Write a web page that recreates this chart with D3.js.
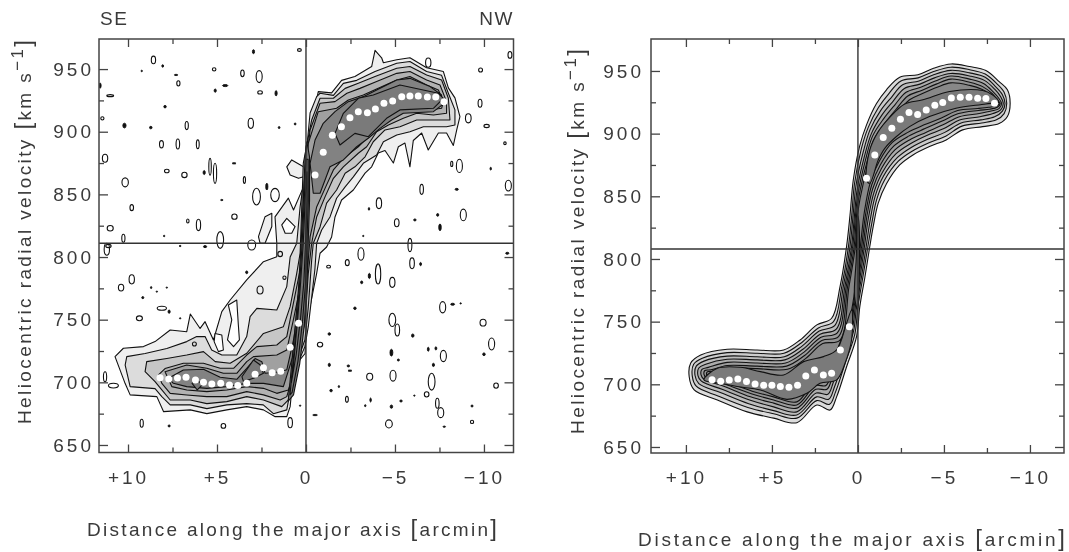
<!DOCTYPE html>
<html lang="en">
<head>
<meta charset="UTF-8">
<title>Position-velocity diagrams along the major axis</title>
<script src="https://d3js.org/d3.v7.min.js"></script>
<style>
    html, body { margin: 0; padding: 0; background: #fff; }
    svg { display: block; filter: blur(0.35px); }
    text { font-family: "Liberation Sans", Arial, sans-serif; fill: #3a3a3a; }
    .tick-label { font-size: 19px; letter-spacing: 3px; }
    .axis-title { font-size: 19px; }
    .contour { stroke: #111; stroke-width: 1.1; stroke-linejoin: round; }
    .speck { fill: none; stroke: #111; stroke-width: 1.1; }
    .speck-solid { fill: #111; stroke: #111; stroke-width: 0.9; }
    .cross { stroke: #333; stroke-width: 1.4; }
    .frame { fill: none; stroke: #444; stroke-width: 1.5; }
    .ticks line { stroke: #444; stroke-width: 1.3; }
    .ticks path { display: none; }
</style>
</head>
<body>
<div id="chart"></div>
<script>
const majorOffsets = [10, 5, 0, -5, -10];
const minorOffsets = [7.5, 2.5, -2.5, -7.5];
const majorVelocities = [650, 700, 750, 800, 850, 900, 950];
const minorVelocities = [675, 725, 775, 825, 875, 925];
const xTitle = "Distance along the major axis ";
const yTitle = "Heliocentric radial velocity ";
const sideLabels = ["SE", "NW"];
const systemicLeft = 811;
const systemicRight = 808;
const levelGreys = ["#efefef", "#dcdcdc", "#c6c6c6", "#b2b2b2", "#a0a0a0", "#828282", "#7a7a7a"];
const rightGreys = ["#dcdcdc", "#cccccc", "#bcbcbc", "#acacac", "#9c9c9c", "#929292", "#888888", "#7a7a7a"];

// white dots: [offset arcmin, velocity km/s]
const leftRotation = [[-.51,865.5],[-.97,883.6],[-1.48,897.1],[-1.99,904],[-2.47,911.2],[-2.94,916],[-3.45,915.2],[-3.9,918.2],[-4.38,922.7],[-4.87,924.5],[-5.38,928],[-5.84,928.5],[-6.31,928.5],[-6.82,927.7],[-7.29,927.7],[-7.75,924],
    [.42,747.1],[.89,728],[1.42,708.8],[1.9,707.7],[2.39,711.7],[2.86,706.4],[3.33,699.2],[3.83,697.4],[4.3,697.9],[4.79,699.2],[5.29,698.7],[5.76,700],[6.21,701.9],[6.74,704],[7.22,703.5],[7.71,702.7],[8.2,703.7]];
const rightRotation = [[-.5,864.4],[-.98,883],[-1.47,896.9],[-1.97,904.3],[-2.47,911.5],[-2.97,916.8],[-3.47,915.2],[-3.97,918.9],[-4.47,922.7],[-4.93,924.8],[-5.43,928.5],[-5.95,929],[-6.46,929],[-6.96,928.3],[-7.44,928],[-7.94,924.3],
    [.5,746],[1.02,727.4],[1.53,708.8],[2.01,707.5],[2.53,711.5],[3.03,706.7],[3.51,699.2],[4.01,697.6],[4.51,698.2],[5,699.2],[5.48,699.2],[5.98,700.3],[6.48,702.2],[6.98,704.3],[7.48,703.5],[7.98,702.4],[8.48,703.7]];

// left panel contours, observed data
const leftLevel1 = [[10.73,720.5],[10.26,727.2],[9.13,728.5],[8.48,732.5],[7.63,741.8],[6.7,740.4],[6.5,754.5],[5.95,743],[5.67,748.4],[5.2,733.8],[4.73,756.4],[4.26,765.7],[3.33,781.7],[2.39,796.3],[1.64,800.3],[1.64,811],[1.74,832],[.99,847],[.7,837.6],[.14,856],[.05,875],[0,888],[-.23,899],[-.41,912],[-.69,932],[-1.44,931],[-2,941],[-2.75,944],[-3.69,952],[-3.88,965],[-4.25,959],[-4.35,955],[-5.1,957.5],[-5.84,959],[-6.78,951],[-7.72,948],[-8,935],[-8.37,927],[-8.65,912],[-8.47,901.4],[-8.28,889],[-7.9,899],[-7.44,899],[-6.87,885.4],[-6.5,899],[-6.03,893],[-5.84,872],[-5.56,891],[-5.19,888],[-4.91,875],[-4.44,885],[-4.06,883],[-3.69,872],[-3.32,867],[-2.66,853.5],[-2,845.5],[-1.63,832],[-1.44,816],[-1.16,808],[-.79,803],[-.6,787],[-.22,760],[0,739],[.05,723],[.52,715],[.8,694],[.89,680.6],[1.08,672.6],[1.73,672.6],[2.39,678],[3.33,680.6],[4.45,678],[5.57,675],[6.5,678],[8,676.6],[8.38,688.6],[9.88,690],[10.16,699]];
const leftLobeA = [[1.08,872],[.8,877.5],[.14,872],[.14,864],[.42,862.8],[.89,865.5]];
const leftLobeB = [[2.67,816.3],[2.3,832.2],[1.92,834.9],[1.92,824.3],[2.3,811],[2.58,811]];
const leftHoles = [
    [[5.11,739],[4.73,737.8],[4.64,725.8],[4.92,724.5],[5.16,732.5]],
    [[4.36,761.7],[3.89,765.7],[3.8,745.8],[3.74,733.8],[4.07,728.5],[4.41,733.8],[4.17,749.8]],
    [[1.36,825.6],[1.08,830.9],[.61,824.3],[.8,819],[1.17,819]]
];
const leftLevel2 = [[10.16,713.8],[10.07,720.5],[9.04,723],[7.82,727],[6.7,732.5],[6.14,736.5],[5.67,736.5],[5.3,725.8],[4.73,721.8],[3.89,721.8],[3.33,736.5],[3.14,752.4],[2.76,759],[1.64,757.7],[1.08,776.4],[.89,800],[.52,811],[.33,840],[.14,859],[-.23,915],[-.6,928],[-.79,930.7],[-1.54,929],[-2.1,938.6],[-2.85,941],[-3.88,948],[-5.1,954.6],[-5.84,956],[-6.78,948],[-7.62,945],[-8,930.7],[-8.37,917.4],[-8.37,905.4],[-7.9,904],[-7.34,904],[-6.6,904],[-5.84,900],[-5.1,897.4],[-4.35,892],[-3.97,881.4],[-3.22,874.8],[-2.66,864],[-2.2,856],[-1.72,846.9],[-1.35,832],[-.88,821.6],[-.6,811],[-.5,790],[-.13,744.4],[.06,728.5],[.7,707],[1.08,678],[1.83,675],[2.4,682],[3.33,683],[4.45,682],[5.57,679],[6.5,682],[7.63,682],[8.1,688.6],[8.48,695],[9.88,696.6]];
const leftLevel3 = [[9.04,708.5],[8.95,716.5],[7.82,719],[6.7,721.8],[5.76,724.5],[5.1,716.5],[4.26,715.2],[3.33,723.2],[2.39,739],[1.27,744.4],[.89,760.4],[.52,787],[.33,803],[.15,875],[-.32,909.4],[-.79,926.7],[-1.54,926.7],[-2.2,934.6],[-2.94,938.6],[-3.88,944],[-5.1,950.6],[-5.84,952],[-6.78,945.3],[-7.62,941.3],[-8,926.7],[-8.09,909.4],[-7.34,909.4],[-6.22,909.4],[-5.28,904],[-4.44,901.4],[-3.78,892],[-3.32,880],[-2.75,872],[-2.2,866.8],[-1.72,853.5],[-1.16,843],[-.79,824],[-.41,811],[-.32,797.6],[-.13,760],[.06,733.8],[.61,712.5],[.99,686],[1.36,680.6],[2.39,685.9],[3.33,688.6],[4.45,684.6],[5.57,683],[6.5,685.9],[7.63,685.9],[8.1,693.9],[8.48,700.5]];
const leftLevel4 = [[8.29,705.9],[7.92,711],[6.89,715.2],[5.76,715.2],[4.82,711.2],[4.07,711.2],[3.33,721.8],[2.76,728.5],[1.64,729.8],[1.08,736.5],[.71,763],[.33,789.7],[.1,860],[-.23,901.4],[-.79,922.7],[-1.63,924],[-2.3,930.7],[-3.03,934.6],[-3.97,940],[-5.1,946.6],[-5.84,948],[-6.78,941.3],[-7.53,937.3],[-7.9,924],[-7.9,914.7],[-7.16,913.4],[-6.22,914.7],[-5.47,910.7],[-4.63,905.4],[-3.97,900],[-3.41,888],[-2.94,882.8],[-2.1,872],[-1.54,862.8],[-1.07,848],[-.6,832],[-.32,811],[-.13,787],[.06,747],[.52,723],[.8,702],[1.08,688.6],[1.45,685.9],[2.39,690],[3.33,692.6],[4.45,688.6],[5.57,688.6],[6.7,689.9],[7.63,691.2],[8.1,699.2]];
const leftLevel5 = [[7.92,708.5],[6.7,713.8],[5.57,711.2],[4.64,707.2],[3.89,707.2],[3.33,716.5],[2.95,720.5],[1.64,721.8],[1.08,725.8],[.71,749.8],[.24,781.7],[.05,850],[-.13,890.8],[-.69,916],[-1.72,918.7],[-2.38,925.3],[-3.22,929.3],[-4.06,934.6],[-5.1,941.3],[-5.84,944],[-6.78,937.3],[-7.44,933.3],[-7.72,924],[-7.62,918.7],[-6.97,917.4],[-6.03,918.7],[-5.28,914.7],[-4.63,910.7],[-4.06,904],[-3.5,896],[-2.94,888],[-2.1,878.8],[-1.54,869.5],[-1.07,854.8],[-.6,840],[-.23,816],[.15,747],[.42,733.8],[.7,707],[.99,693.9],[1.64,691.2],[2.39,695.2],[3.33,696.6],[4.45,693.9],[5.57,692.6],[6.7,693.9],[7.54,696.6]];
const leftLevel6 = [
    [[7.73,703.2],[6.89,709.9],[5.76,710.4],[4.82,704],[3.89,702.4],[3.33,711.2],[2.86,719],[2.48,716.5],[2.3,707.2],[1.45,708.5],[1.08,710],[.7,733.8],[.42,760.4],[.2,800],[.5,760],[.75,720],[1.27,696.6],[2.39,699.2],[3.33,699.2],[4.45,696.6],[5.57,695.2],[6.7,696.6],[7.45,699.2]],
    [[-.41,850.9],[-.79,850.9],[-1.35,872],[-2.1,877.5],[-2.85,888],[-3.5,894.8],[-4.16,902.7],[-4.81,909.4],[-5.47,914.7],[-7.16,916],[-7.62,921],[-7.62,929.3],[-6.97,936],[-5.84,942.6],[-5.1,941.3],[-3.97,933.3],[-3.22,928],[-2.38,924],[-1.63,916],[-.97,906.7],[-.51,893.4],[-.23,874.8]]
];
const leftLevel7 = [
    [[-1.63,898.7],[-1.91,889.4],[-2.75,898.7],[-3.5,896],[-4.53,910.7],[-5.28,917.4],[-7.16,918.7],[-7.72,926.7],[-7.44,930.7],[-5.28,937.3],[-3.78,929.3],[-2.94,926.7],[-2.1,914.7]],
    [[6.4,699.2],[6.11,701.9],[5.83,697.9],[6.11,693.9]],
    [[3.6,704.5],[2.95,717.8],[2.58,714],[2.39,707.2],[2.95,703.2],[3.51,700.6]]
];
const leftCore = [
    [[1,685],[.8,715],[.6,745],[.42,775],[.28,810],[.15,845],[.05,880],[-.05,892],[-.2,880],[-.2,845],[-.12,810],[-.05,775],[.1,745],[.35,715],[.7,690]],
    [[.9,690],[.72,717],[.52,748],[.36,778],[.22,810],[.1,845],[0,878],[-.12,878],[-.13,845],[-.05,810],[.03,778],[.2,748],[.45,717],[.78,692]],
    [[.82,700],[.65,722],[.46,752],[.3,780],[.15,812],[.05,845],[-.05,868],[-.06,845],[.02,812],[.12,780],[.3,752],[.55,722]]
];
// small noise contours: [offset, velocity, half width arcmin, half height km/s]
const leftLoops = [[8.57,957.3,.12,3],[5.16,949.8,.1,1.3],[3.57,946.6,.1,2.7],[2.63,944,.17,4.8],[7.17,938.6,.09,2.1],[2.58,931.4,.13,1.3],[11,928.8,.19,.8],[11.44,910.7,.09,1.3],[6.7,904.9,.09,3.2],[3.1,906.7,.15,4],[8.12,890,.11,2.9],[7.2,890.2,.1,4],[6.08,890,.08,3.5],[11.29,878.8,.15,3.2],[7.82,868.7,.13,1.4],[6.83,865.5,.15,2.1],[5.39,872,.07,6.7],[5.11,866.8,.09,8],[3.46,861.5,.06,2.7],[10.16,859.6,.18,3.6],[9.79,839.4,.1,2.4],[4.02,832.2,.15,2.1],[11,823,.17,2.2],[6.64,828.8,.07,1.6],[6.04,825.6,.12,4.5],[10.26,815,.09,3.2],[11.1,808.8,.15,1.3],[4.82,813.6,.19,6.7],[3.05,809.6,.22,4],[2.78,848.2,.22,6.7],[1.74,849.5,.24,5.3],[.37,965.2,.11,1.1],
    [-6.87,955.1,.15,3.7],[-9.81,949.3,.11,1.6],[-11.46,961.3,.11,2.7],[-9.78,922.7,.11,3.2],[-9.12,910.7,.16,3.6],[-10.15,904.6,.15,1.3],[-11.18,890.8,.07,1.1],[-8.62,872.7,.17,5.3],[-8.19,874.3,.06,2.1],[-11.37,857,.17,4.3],[-6.5,854,.1,4],[-4.1,842.9,.15,4.3],[-8.84,833.6,.17,4.6],[-5.1,827.4,.13,3.2],[-5.84,809.6,.11,5.3],
    [-3.09,802.4,.17,5],[-2.32,795.5,.11,2.4],[-1.27,792.3,.11,1.1],[-5.96,795,.13,4.3],[-4.05,786.5,.15,8],[-4.85,779.8,.15,4],[-7.68,759.9,.17,4.5],[-4.85,749.8,.19,5.3],[-5.13,741.8,.13,4.8],[-9.95,747.6,.17,2.7],[-10.43,730.6,.17,4.8],[-.79,730.1,.15,1.9],[-7.72,721,.17,4.5],[-3.58,704.5,.17,2.8],[-4.89,705.3,.17,4.3],[-7.06,700.5,.19,6.7],[-6.78,690.4,.13,2.1],[-10.68,697.4,.13,2.1],[-2.3,686.4,.08,2.4],[-7.38,683.3,.1,4],[-7.57,675.8,.17,4],[-9.33,668.4,.09,1.3],[-4.66,666.8,.19,3.2],
    [11.19,806.2,.15,4.8],[9.79,782.2,.15,3.7],[10.39,775.6,.15,2.7],[9.36,751.1,.17,1.9],[8.1,759.1,.26,1.6],[6.27,730.6,.11,1.6],[11.29,704.5,.09,4],[10.82,697.4,.28,1.9],[9.23,667.3,.09,3.2],[4.64,665.2,.13,1.9],[.89,667.8,.13,4],[1.45,802.4,.13,2.1],[2.58,773.7,.17,3.2],[1.21,783.5,.09,1.3]];
const leftDots = [[9.23,948.5,.04,.6],[8.05,952.5,.05,1],[7.3,945.3,.1,.5],[4.54,936.8,.15,.8],[5.1,932.8,.06,1.3],[1.68,930.7,.06,2.1],[11.57,936.8,.06,2.1],[7.92,920,.07,1],[10.2,904.9,.09,1.9],[8.72,903.3,.07,1],[1.51,903.3,.05,.8],[.61,906.2,.05,.8],[5.72,867.4,.06,1.6],[4.04,874.8,.11,.5],[2.2,856.2,.06,2.7],[4.73,845.5,.07,.5],[7.97,816.8,.04,.6],[7.07,808.8,.05,.5],[5.67,808.3,.09,.8],[2.95,963.9,.06,1.6],
    [-10.38,870.5,.04,1.1],[-8.47,854,.09,.8],[-3.54,838.4,.04,1.1],[-6.12,829.6,.07,.8],[-7.4,833.6,.06,1.1],[-7.53,823.7,.07,2.7],[-3.22,816.8,.04,.5],
    [-6.44,794.4,.05,1.3],[-11.31,803,.09,.8],[-3.56,784.9,.06,2.1],[-3.13,779.8,.06,1.1],[-2.75,759.1,.07,1],[-8.24,762.3,.11,.8],[-8.69,763,.04,.5],[-6,737.3,.07,1.3],[-10,722.4,.07,1.1],[-1.31,738.6,.07,1],[-6.87,726.4,.05,1.6],[-7.3,727.1,.05,1.3],[-4.8,723.7,.08,2.7],[-5.19,717.8,.06,.8],[-1.31,713.9,.06,1.3],[-2.38,713.1,.07,.8],[-2.47,709.3,.11,.5],[-7.16,713.9,.06,1.3],[-1.41,693.4,.07,1],[-1.85,696.6,.04,.8],[-3.63,685.9,.04,1.6],[-3.33,681.4,.04,.8],[-4.8,680.6,.07,1.3],[-5.34,685.1,.07,.8],[-6.09,689.4,.04,.5],[-9.33,681.1,.06,.8],[-7.77,664.6,.07,.5],[-.51,673.9,.13,.5],
    [9.17,767.6,.06,.8],[8.7,775.6,.04,.8],[8.38,772.4,.04,.5],[7.82,775.6,.04,.5],[7.69,756.4,.06,1.3],[7.07,751.1,.04,.5],[7.69,665.2,.06,.8],[.33,681.4,.04,.5],[3.33,787.8,.06,1.1]];

// right panel contours, model
const rightLevel1 = [[.27,863],[-.1,890],[-.5,907],[-1.08,924],[-1.66,935],[-2.43,945],[-3.49,947],[-4.36,952],[-5.42,955.6],[-6.48,953.5],[-7.44,950.3],[-8.21,941.5],[-8.69,935],[-8.85,924],[-8.69,913.6],[-8.21,908],[-7.25,905.6],[-6.09,903],[-5.13,895],[-4.16,889.7],[-3.2,883],[-2.43,875],[-1.66,860],[-1.18,844.5],[-.89,826],[-.69,810],[-.4,785],[-.11,762],[.08,738],[.66,714],[1.24,690],[1.62,679.5],[2.39,683.5],[3.55,669.4],[4.9,673],[6.44,678],[8.17,687.5],[9.52,695.5],[9.81,706],[9.72,717],[9.14,723.4],[7.6,728],[5.86,727.4],[4.32,727.4],[3.36,735.4],[2.39,747.4],[1.53,752.7],[1.04,778],[.66,810],[.46,835]];
const rightLevel2 = [[.2,860],[-.2,888],[-.6,905],[-1.2,921],[-1.8,932],[-2.5,942],[-3.5,944.5],[-4.4,949.5],[-5.4,953],[-6.5,951],[-7.4,947.5],[-8.1,939.5],[-8.5,933],[-8.65,924],[-8.5,916],[-8.05,911],[-7.2,908.5],[-6.05,906],[-5.1,898],[-4.1,892.5],[-3.15,886],[-2.35,878],[-1.55,863],[-1.08,847],[-.8,828],[-.58,810],[-.28,785],[0,762],[.18,740],[.74,717],[1.3,694],[1.65,684],[2.39,687],[3.55,673],[4.9,676.5],[6.4,681.5],[8.1,690.5],[9.4,698.5],[9.63,706.5],[9.55,716],[9.05,720.8],[7.6,725.3],[5.86,724.8],[4.3,724.8],[3.3,733],[2.3,745],[1.42,750],[.94,778],[.55,810],[.36,835]];
const rightLevel3 = [[.12,858],[-.3,885],[-.7,903],[-1.3,918],[-1.95,929],[-2.6,939],[-3.55,942],[-4.4,947],[-5.4,950.5],[-6.5,948.5],[-7.4,945],[-8,937.5],[-8.4,931],[-8.55,924],[-8.4,918],[-7.95,913.5],[-7.15,911],[-6,908.5],[-5.05,901],[-4.05,895.5],[-3.1,889],[-2.3,881],[-1.48,866],[-1,850],[-.7,830],[-.48,810],[-.2,785],[.08,762],[.26,742],[.82,720],[1.36,698],[1.7,688],[2.4,690],[3.55,675.5],[4.9,679],[6.35,684.5],[8,693.5],[9.25,700.5],[9.47,707],[9.4,714.5],[8.95,718.5],[7.6,722.5],[5.86,722],[4.28,722],[3.25,730.5],[2.25,742.5],[1.34,747],[.85,778],[.46,810],[.28,835]];
const rightLevel4 = [[.05,855],[-.38,882],[-.78,900],[-1.4,915],[-2.05,926],[-2.7,936],[-3.6,939.5],[-4.45,944.5],[-5.4,948],[-6.5,946],[-7.35,942.5],[-7.95,935.5],[-8.3,929.5],[-8.45,924],[-8.3,919],[-7.85,916],[-7.1,913.5],[-5.95,911],[-5,904],[-4,898.5],[-3.05,892],[-2.22,884],[-1.42,869],[-.93,853],[-.6,832],[-.38,810],[-.12,785],[.15,762],[.33,744],[.9,723],[1.42,702],[1.75,692],[2.42,693],[3.55,678],[4.9,682],[6.3,687.5],[7.9,696],[9.1,702.5],[9.3,707],[9.25,713],[8.85,716],[7.6,720],[5.86,719.5],[4.25,719.5],[3.2,728],[2.2,740],[1.26,744],[.76,778],[.37,810],[.2,835]];
const rightLevel5 = [[0,852],[-.44,879],[-.85,898],[-1.5,912],[-2.15,923],[-2.8,933],[-3.65,937],[-4.5,942],[-5.4,946],[-6.5,943.5],[-7.3,940],[-7.85,933.5],[-8.2,928],[-8.35,924],[-8.2,920],[-7.75,918],[-7.05,916],[-5.9,913.5],[-4.95,907],[-3.95,901],[-3,895],[-2.15,887],[-1.36,872],[-.86,856],[-.52,834],[-.3,810],[-.05,785],[.22,762],[.4,746],[.96,726],[1.48,706],[1.8,696],[2.45,696],[3.55,681],[4.9,685],[6.25,690],[7.8,698.5],[8.95,704],[9.12,707.5],[9.07,712],[8.7,713.5],[7.6,717.5],[5.86,717],[4.2,717],[3.15,725.5],[2.15,737.5],[1.2,741],[.68,778],[.3,810],[.14,835]];
const rightLevel6 = [[-.06,850],[-.5,876],[-.92,895],[-1.6,909],[-2.25,920],[-2.9,930],[-3.7,934.5],[-4.55,939.5],[-5.4,943.5],[-6.5,941],[-7.25,937.5],[-7.8,932],[-8.1,927],[-8.27,924],[-8.1,921],[-7.65,919.5],[-7,918.5],[-5.85,916],[-4.9,910],[-3.9,904],[-2.95,898],[-2.08,890],[-1.3,875],[-.8,859],[-.45,836],[-.22,810],[.02,785],[.28,762],[.47,748],[1.02,729],[1.54,709],[1.86,699],[2.48,699],[3.55,683.5],[4.9,687.5],[6.2,692.5],[7.7,700],[8.8,705],[8.95,708],[8.9,711],[8.55,711.5],[7.6,715],[5.86,714.5],[4.15,714.5],[3.1,723],[2.1,735],[1.13,738],[.6,778],[.22,810],[.08,835]];
const rightLevel7 = [[-.12,848],[-.55,873],[-1,892],[-1.7,906],[-2.35,917],[-3,927],[-3.75,932],[-4.6,937],[-5.4,940.5],[-6.5,938.5],[-7.2,935.5],[-7.75,931],[-8.05,926.5],[-8.22,924],[-8.05,922],[-7.6,921],[-6.95,920],[-5.8,918.5],[-4.85,912.5],[-3.85,907],[-2.9,901],[-2,893],[-1.24,878],[-.74,862],[-.38,838],[-.14,810],[.08,785],[.33,762],[.53,750],[1.08,732],[1.6,712],[1.92,702],[2.52,702],[3.55,686],[4.9,690],[6.15,694.5],[7.6,701.5],[8.65,705.5],[8.8,708],[8.75,710],[8.4,710],[7.6,713],[5.86,712.5],[4.1,712],[3.05,720.5],[2.05,732.5],[1.06,735],[.52,778],[.15,810],[.02,835]];
const rightLevel8Upper = [[-.69,860.4],[-1.18,879],[-1.56,888.3],[-2.24,897.7],[-3,905.6],[-4.16,913.6],[-5.7,920.3],[-7.44,923.7],[-8.17,925.6],[-7.82,930.9],[-7.25,934.4],[-5.32,933.6],[-3.78,927],[-2.72,923.7],[-1.85,913],[-1.18,901.6],[-.69,887],[-.5,863]];
const rightLevel8Lower = [[8.95,703.5],[8.17,712.8],[6.82,713.6],[5.67,710.1],[4.32,707.5],[3.16,718.1],[2,722.1],[1.24,727.4],[.66,748.7],[.37,759.3],[.37,735.4],[.75,716.8],[1.24,703.5],[2.2,700.8],[2.97,692.8],[4.13,688],[5.67,695.5],[7.02,698.2],[7.98,700.8]];
const rightCore = [[.1,800],[.2,770],[.02,760],[-.08,790],[-.05,830],[.02,835]];

const width = 1069, height = 552;
const svg = d3.select("#chart").append("svg").attr("width", width).attr("height", height);

function signedLabel(d) {
    if (d > 0) return "+" + d;
    if (d < 0) return "\u2212" + (-d);
    return "0";
}

function drawAxes(g, x, y, box, labelGap) {
    const bottom = g.append("g").attr("class", "ticks").attr("transform", `translate(0,${box.bottom})`);
    bottom.call(d3.axisBottom(x).tickValues(majorOffsets).tickSize(-8).tickSizeOuter(0).tickPadding(18).tickFormat(signedLabel));
    bottom.selectAll("text").attr("class", "tick-label").attr("fill", null);
    g.append("g").attr("class", "ticks").attr("transform", `translate(0,${box.bottom})`)
        .call(d3.axisBottom(x).tickValues(minorOffsets).tickSize(-5).tickSizeOuter(0).tickFormat(""));
    g.append("g").attr("class", "ticks").attr("transform", `translate(0,${box.top})`)
        .call(d3.axisTop(x).tickValues(majorOffsets).tickSize(-8).tickSizeOuter(0).tickFormat(""));
    g.append("g").attr("class", "ticks").attr("transform", `translate(0,${box.top})`)
        .call(d3.axisTop(x).tickValues(minorOffsets).tickSize(-5).tickSizeOuter(0).tickFormat(""));
    const left = g.append("g").attr("class", "ticks").attr("transform", `translate(${box.left},0)`);
    left.call(d3.axisLeft(y).tickValues(majorVelocities).tickSize(-9).tickSizeOuter(0).tickPadding(labelGap).tickFormat(d3.format("d")));
    left.selectAll("text").attr("class", "tick-label").attr("fill", null);
    g.append("g").attr("class", "ticks").attr("transform", `translate(${box.left},0)`)
        .call(d3.axisLeft(y).tickValues(minorVelocities).tickSize(-5).tickSizeOuter(0).tickFormat(""));
    g.append("g").attr("class", "ticks").attr("transform", `translate(${box.right},0)`)
        .call(d3.axisRight(y).tickValues(majorVelocities).tickSize(-9).tickSizeOuter(0).tickFormat(""));
    g.append("g").attr("class", "ticks").attr("transform", `translate(${box.right},0)`)
        .call(d3.axisRight(y).tickValues(minorVelocities).tickSize(-5).tickSizeOuter(0).tickFormat(""));
}

function drawTitles(g, box, xTitleAt, yTitleAt) {
    const xt = g.append("text").attr("class", "axis-title")
        .attr("x", xTitleAt.x).attr("y", xTitleAt.y)
        .attr("textLength", xTitleAt.length).attr("lengthAdjust", "spacing");
    xt.append("tspan").text(xTitle);
    xt.append("tspan").attr("font-size", 24).text("[");
    xt.append("tspan").text("arcmin");
    xt.append("tspan").attr("font-size", 24).text("]");

    const yt = g.append("text").attr("class", "axis-title")
        .attr("transform", `translate(${yTitleAt.x},${yTitleAt.y}) rotate(-90)`)
        .attr("textLength", yTitleAt.length).attr("lengthAdjust", "spacing");
    yt.append("tspan").text(yTitle);
    yt.append("tspan").attr("font-size", 24).text("[");
    yt.append("tspan").text("km s");
    yt.append("tspan").attr("dy", -8).attr("font-size", 17).text("\u22121");
    yt.append("tspan").attr("dy", 8).attr("font-size", 24).text("]");
}

function panel(cfg) {
    const box = cfg.box;
    const x = d3.scaleLinear().domain(cfg.xDomain).range([box.left, box.right]);
    const y = d3.scaleLinear().domain(cfg.yDomain).range([box.bottom, box.top]);
    const g = svg.append("g");

    g.append("clipPath").attr("id", cfg.id + "-clip").append("rect")
        .attr("x", box.left).attr("y", box.top)
        .attr("width", box.right - box.left).attr("height", box.bottom - box.top);

    const plot = g.append("g").attr("clip-path", `url(#${cfg.id}-clip)`);
    const line = d3.line().x(d => x(d[0])).y(d => y(d[1])).curve(cfg.curve);

    cfg.layers.forEach(layer => {
        plot.append("path").attr("class", "contour").attr("d", line(layer.points)).attr("fill", layer.fill);
    });

    if (cfg.loops) {
        const ell = sel => sel.attr("cx", d => x(d[0])).attr("cy", d => y(d[1]))
            .attr("rx", d => Math.abs(x(d[0] + d[2]) - x(d[0])))
            .attr("ry", d => Math.abs(y(d[1] + d[3]) - y(d[1])));
        plot.selectAll(".speck").data(cfg.loops).enter().append("ellipse").attr("class", "speck").call(ell);
        plot.selectAll(".speck-solid").data(cfg.dots).enter().append("ellipse").attr("class", "speck-solid").call(ell);
    }

    g.append("line").attr("class", "cross").attr("x1", x(0)).attr("x2", x(0)).attr("y1", box.top).attr("y2", box.bottom);
    g.append("line").attr("class", "cross").attr("x1", box.left).attr("x2", box.right).attr("y1", y(cfg.systemic)).attr("y2", y(cfg.systemic));

    plot.selectAll(".rot").data(cfg.rotation).enter().append("circle").attr("class", "rot")
        .attr("cx", d => x(d[0])).attr("cy", d => y(d[1])).attr("r", 3.5).attr("fill", "#fff");

    drawAxes(g, x, y, box, cfg.labelGap);
    g.append("rect").attr("class", "frame").attr("x", box.left).attr("y", box.top)
        .attr("width", box.right - box.left).attr("height", box.bottom - box.top);
    drawTitles(g, box, cfg.xTitleAt, cfg.yTitleAt);
}

const toLayers = (groups, greys) => groups.flatMap((pts, i) => {
    const polys = Array.isArray(pts[0][0]) ? pts : [pts];
    return polys.map(p => ({ points: p, fill: greys[i] }));
});

const leftLayers = [
    ...[leftLevel1, leftLobeA, leftLobeB].map(p => ({ points: p, fill: levelGreys[0] })),
    ...leftHoles.map(p => ({ points: p, fill: "#fff" })),
    ...toLayers([leftLevel2, leftLevel3, leftLevel4, leftLevel5, leftLevel6, leftLevel7], levelGreys.slice(1)),
    ...leftCore.map(p => ({ points: p, fill: "#777" }))
];

const rightLayers = [
    ...toLayers([rightLevel1, rightLevel2, rightLevel3, rightLevel4, rightLevel5, rightLevel6, rightLevel7], rightGreys),
    { points: rightLevel8Upper, fill: rightGreys[7] },
    { points: rightLevel8Lower, fill: rightGreys[7] },
    { points: rightCore, fill: "#666" }
];

panel({
    id: "left", box: { left: 99, right: 513.5, top: 39, bottom: 452.5 },
    xDomain: [11.63, -11.66], yDomain: [644, 974],
    layers: leftLayers, curve: d3.curveLinearClosed,
    loops: leftLoops, dots: leftDots, rotation: leftRotation, systemic: systemicLeft, labelGap: 5,
    xTitleAt: { x: 87, y: 536, length: 410 }, yTitleAt: { x: 31, y: 424, length: 384 }
});

panel({
    id: "right", box: { left: 651, right: 1064, top: 39, bottom: 453 },
    xDomain: [12.03, -11.98], yDomain: [645.2, 975.5],
    layers: rightLayers, curve: d3.curveCatmullRomClosed.alpha(0.5),
    rotation: rightRotation, systemic: systemicRight, labelGap: 7,
    xTitleAt: { x: 638, y: 546, length: 427 }, yTitleAt: { x: 584, y: 434, length: 385 }
});

svg.append("text").attr("x", 100).attr("y", 25).attr("font-size", 19).attr("letter-spacing", 1.5).text(sideLabels[0]);
svg.append("text").attr("x", 514).attr("y", 25).attr("font-size", 19).attr("letter-spacing", 1.5).attr("text-anchor", "end").text(sideLabels[1]);
</script>
</body>
</html>
